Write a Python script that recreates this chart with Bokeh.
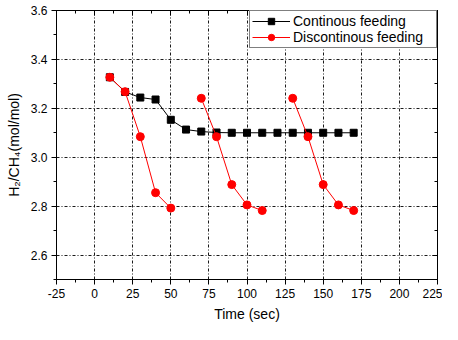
import math
from bokeh.plotting import figure
from bokeh.models import (ColumnDataSource, Legend, LegendItem, LinearAxis,
                          SingleIntervalTicker, Range1d, PrintfTickFormatter)
from bokeh.embed import file_html
from bokeh.resources import INLINE

# ---- data ----
time_cont = [10, 20, 30, 40, 50, 60, 70, 80, 90, 100, 110, 120, 130, 140, 150, 160, 170]
ratio_cont = [3.327, 3.267, 3.244, 3.236, 3.153, 3.113, 3.105, 3.101, 3.10, 3.10,
              3.10, 3.10, 3.10, 3.10, 3.10, 3.10, 3.10]

time_disc_1 = [10, 20, 30, 40, 50]
ratio_disc_1 = [3.327, 3.268, 3.084, 2.855, 2.792]
time_disc_2 = [70, 80, 90, 100, 110]
ratio_disc_2 = [3.241, 3.084, 2.888, 2.805, 2.782]
time_disc_3 = [130, 140, 150, 160, 170]
ratio_disc_3 = [3.241, 3.084, 2.888, 2.805, 2.782]

label_cont = "Continous feeding"
label_disc = "Discontinous feeding"
x_title = "Time (sec)"
y_title = "H\u2082/CH\u2084(mol/mol)"

nan = float("nan")
time_disc = time_disc_1 + [nan] + time_disc_2 + [nan] + time_disc_3
ratio_disc = ratio_disc_1 + [nan] + ratio_disc_2 + [nan] + ratio_disc_3

src_c = ColumnDataSource(dict(x=time_cont, y=ratio_cont))
src_d = ColumnDataSource(dict(x=time_disc, y=ratio_disc))

FONT = "Liberation Sans"
W, H = 442, 324
BL, BR, BT, BB = 56, 5, 10, 43

p = figure(width=W, height=H, x_range=Range1d(-25, 225), y_range=Range1d(2.5, 3.6),
           output_backend="svg", toolbar_location=None,
           min_border_left=BL, min_border_right=BR, min_border_top=BT, min_border_bottom=BB)
p.outline_line_color = "black"
p.outline_line_width = 1
p.background_fill_color = "white"
p.border_fill_color = "white"

xt = SingleIntervalTicker(interval=25, num_minor_ticks=2)
yt = SingleIntervalTicker(interval=0.2, num_minor_ticks=2)
p.xaxis.ticker = xt
p.yaxis.ticker = yt
p.xgrid.ticker = xt
p.ygrid.ticker = yt
p.yaxis.formatter = PrintfTickFormatter(format="%.1f")
p.xaxis.major_label_overrides = {-25: "-25"}

for ax in (p.xaxis[0], p.yaxis[0]):
    ax.axis_line_color = "black"
    ax.major_tick_line_color = "black"
    ax.minor_tick_line_color = "black"
    ax.major_tick_out = 5
    ax.major_tick_in = 0
    ax.minor_tick_out = 3
    ax.minor_tick_in = 0
    ax.major_label_text_font = FONT
    ax.major_label_text_font_size = "12px"
    ax.major_label_text_color = "black"
    ax.axis_label_text_font = FONT
    ax.axis_label_text_font_size = "14px"
    ax.axis_label_text_font_style = "normal"
    ax.axis_label_text_color = "black"

p.xaxis.axis_label = x_title
p.yaxis.axis_label = y_title
p.xaxis.major_label_standoff = 4
p.xaxis.axis_label_standoff = 5
p.yaxis.major_label_standoff = 4
p.yaxis.axis_label_standoff = 6

for side, tk in (("right", yt), ("above", xt)):
    a = LinearAxis(ticker=tk, major_label_text_font_size="1px", major_label_standoff=0,
                   major_label_text_color=None,
                   major_tick_in=5, major_tick_out=0, minor_tick_in=3, minor_tick_out=0,
                   axis_line_color="black", major_tick_line_color="black",
                   minor_tick_line_color="black")
    p.add_layout(a, side)

for g in (p.xgrid[0], p.ygrid[0]):
    g.grid_line_color = "black"
    g.grid_line_dash = "3 2 1 2"
    g.grid_line_width = 1
    g.grid_line_alpha = 0.9

lc = p.line("x", "y", source=src_c, line_color="black", line_width=1)
sc = p.scatter("x", "y", source=src_c, marker="square", size=7, fill_color="black",
               line_color="black")
ld = p.line("x", "y", source=src_d, line_color="#ff0000", line_width=1)
sd = p.scatter("x", "y", source=src_d, marker="circle", size=8, fill_color="#ff0000",
               line_color="#ff0000")

fw = W - BL - BR
fh = H - BT - BB
LW, LH = 186, 36
common = dict(padding=2, spacing=0, glyph_width=38, glyph_height=16, label_height=16,
              label_standoff=3, label_width=141, margin=0,
              label_text_font=FONT, label_text_font_size="14px",
              border_line_color="black", border_line_width=1)

shadow = Legend(items=[LegendItem(label=" ", renderers=[lc, sc]),
                       LegendItem(label=" ", renderers=[ld, sd])],
                location=(fw - LW + 3, fh - LH - 3),
                background_fill_color="black", background_fill_alpha=1.0,
                **common)
shadow.label_text_color = None
p.add_layout(shadow, "center")

leg = Legend(items=[LegendItem(label=label_cont, renderers=[lc, sc]),
                    LegendItem(label=label_disc, renderers=[ld, sd])],
             location="top_right", background_fill_color="white",
             background_fill_alpha=1.0, **common)
leg.label_text_color = "black"
p.add_layout(leg, "center")

open("out.html", "w").write(file_html(p, INLINE))
